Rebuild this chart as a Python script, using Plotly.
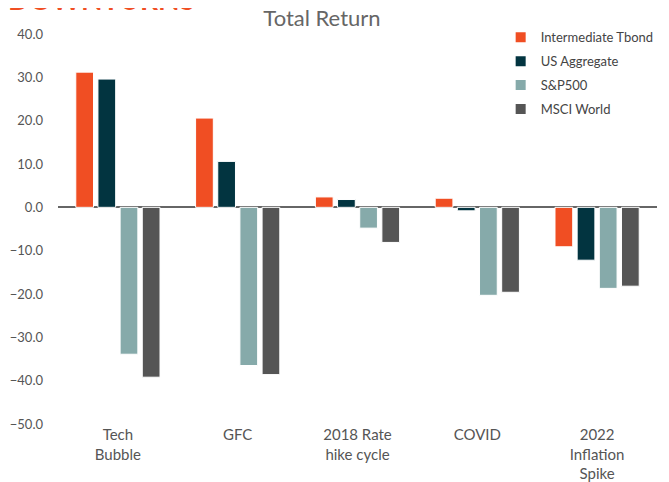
import plotly.graph_objects as go

categories = ["Tech<br>Bubble", "GFC", "2018 Rate<br>hike cycle", "COVID", "2022<br>Inflation<br>Spike"]
series_names = ["Intermediate Tbond", "US Aggregate", "S&P500", "MSCI World"]
tbond = [31.2, 20.6, 2.4, 2.1, -9.1]
us_agg = [29.6, 10.6, 1.8, -0.8, -12.2]
sp500 = [-33.9, -36.5, -4.8, -20.3, -18.7]
msci = [-39.2, -38.6, -8.1, -19.6, -18.2]
colors = ["#F04E23", "#023440", "#86AAAA", "#555555"]
y_ticks = [40, 30, 20, 10, 0, -10, -20, -30, -40, -50]

FONT = "Lato, Roboto, sans-serif"

fig = go.Figure()
for name, vals, col in zip(series_names, [tbond, us_agg, sp500, msci], colors):
    fig.add_trace(go.Bar(
        x=categories, y=vals, name=name, legendgroup=name,
        marker=dict(color=col, line=dict(color="white", width=1)),
    ))

fig.update_layout(
    width=669, height=482,
    paper_bgcolor="white", plot_bgcolor="white",
    margin=dict(l=50, r=20, t=26, b=66, autoexpand=False),
    barmode="group", bargap=0.26, bargroupgap=0.2,
    font=dict(family=FONT, color="#555555", size=13),
    showlegend=True,
    legend=dict(x=0.739, y=1.03, xanchor="left", yanchor="top",
                font=dict(size=13, color="#444444"),
                tracegroupgap=4, itemsizing="constant",
                bgcolor="rgba(0,0,0,0)"),
    title=dict(text="Total Return", x=0.4407, xref="paper", xanchor="center", y=0.979, yanchor="middle",
               font=dict(size=22, color="#666666", family=FONT)),
    annotations=[dict(text="<b>DOWNTURNS</b>", xref="paper", yref="paper",
                      x=-0.087, y=1.04, xanchor="left", yanchor="bottom",
                      showarrow=False, font=dict(size=28, color="#F04E23", family=FONT))],
)
fig.update_xaxes(showline=False, showgrid=False, ticks="", tickfont=dict(size=15, color="#555555"),
                 automargin=False)
fig.update_yaxes(range=[-50, 40], tickvals=y_ticks, tickformat=".1f", showgrid=False,
                 showline=False, zeroline=True, zerolinecolor="#666666", zerolinewidth=2,
                 ticks="", ticklabelstandoff=14, tickfont=dict(size=13, color="#555555"),
                 automargin=False)

fig.write_html("out.html")
